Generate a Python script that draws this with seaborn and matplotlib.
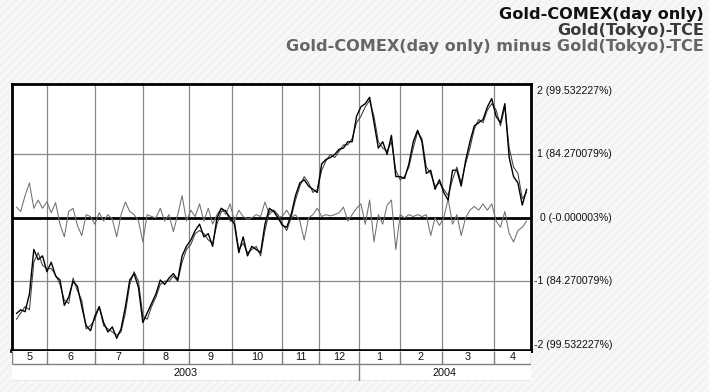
import matplotlib
matplotlib.use("Agg")
import matplotlib.pyplot as plt
import matplotlib.transforms as mtransforms
from matplotlib.patches import Rectangle
import pandas as pd
import seaborn as sns

# ---------------- data ----------------
month_labels = ['5', '6', '7', '8', '9', '10', '11', '12', '1', '2', '3', '4']
month_days = [16, 22, 22, 21, 20, 23, 17, 18, 19, 19, 24, 17]   # trading days per month
year_labels = ['2003', '2004']
year_months = [8, 4]

days = list(range(2, 237, 2))   # trading-day index of each sample

comex = [-1.51, -1.45, -1.48, -1.2, -0.5, -0.66, -0.6, -0.85, -0.7, -0.92,
         -0.98, -1.38, -1.25, -1.0, -1.08, -1.4, -1.7, -1.78, -1.55, -1.4,
         -1.65, -1.8, -1.72, -1.9, -1.75, -1.4, -0.98, -0.88, -1.1, -1.65,
         -1.5, -1.35, -1.2, -0.98, -1.05, -0.95, -0.88, -0.98, -0.6, -0.45,
         -0.35, -0.2, -0.1, -0.3, -0.25, -0.45, 0.0, 0.15, 0.1, 0.0,
         -0.1, -0.55, -0.3, -0.6, -0.45, -0.5, -0.55, -0.1, 0.15, 0.1,
         0.0, -0.12, -0.15, 0.05, 0.35, 0.55, 0.6, 0.5, 0.45, 0.4,
         0.85, 0.92, 0.95, 1.0, 1.08, 1.1, 1.2, 1.2, 1.6, 1.75,
         1.8, 1.9, 1.5, 1.1, 1.2, 1.0, 1.3, 0.65, 0.65, 0.62,
         0.85, 1.2, 1.38, 1.2, 0.7, 0.75, 0.45, 0.6, 0.4, 0.28,
         0.75, 0.75, 0.5, 0.9, 1.2, 1.45, 1.5, 1.55, 1.75, 1.88,
         1.6, 1.5, 1.8, 0.95, 0.65, 0.55, 0.2, 0.45]

tokyo = [-1.6, -1.5, -1.4, -1.45, -0.7, -0.55, -0.75, -0.8, -0.8, -0.9,
         -1.05, -1.3, -1.35, -0.95, -1.15, -1.3, -1.75, -1.7, -1.6, -1.4,
         -1.7, -1.75, -1.8, -1.85, -1.8, -1.5, -1.05, -0.85, -1.0, -1.55,
         -1.6, -1.4, -1.25, -1.05, -1.0, -1.0, -0.92, -1.0, -0.7, -0.5,
         -0.42, -0.25, -0.2, -0.25, -0.35, -0.4, -0.1, 0.1, 0.12, -0.05,
         -0.05, -0.5, -0.4, -0.55, -0.5, -0.45, -0.6, -0.2, 0.1, 0.12,
         0.05, -0.1, -0.2, 0.0, 0.28, 0.5, 0.65, 0.55, 0.4, 0.45,
         0.75, 0.9, 1.0, 0.95, 1.05, 1.15, 1.15, 1.25, 1.5, 1.6,
         1.75, 1.85, 1.6, 1.2, 1.1, 1.05, 1.2, 0.75, 0.6, 0.65,
         0.8, 1.1, 1.35, 1.25, 0.8, 0.7, 0.5, 0.55, 0.45, 0.35,
         0.6, 0.8, 0.55, 0.85, 1.1, 1.4, 1.55, 1.5, 1.7, 1.8,
         1.7, 1.45, 1.75, 1.1, 0.8, 0.7, 0.3, 0.4]

diff = [0.17, 0.1, 0.35, 0.55, 0.15, 0.28, 0.15, 0.25, 0.08, 0.24,
        -0.1, -0.3, 0.1, 0.15, -0.12, -0.28, 0.05, 0.02, -0.1, 0.08,
        -0.05, 0.05, -0.02, -0.3, 0.05, 0.25, 0.1, 0.05, -0.05, -0.38,
        0.05, 0.02, 0.0, 0.15, -0.05, 0.05, -0.22, 0.05, 0.35, -0.05,
        0.12, 0.02, 0.22, -0.05, 0.15, -0.1, 0.05, 0.15, 0.05, 0.22,
        -0.05, 0.12, 0.02, -0.02, 0.0, 0.05, 0.02, 0.25, 0.05, 0.12,
        0.0, 0.03, 0.12, 0.0, 0.05, -0.05, -0.35, 0.0, 0.05, 0.15,
        0.02, 0.05, 0.03, 0.05, 0.08, 0.17, -0.05, 0.05, 0.15, 0.22,
        -0.1, 0.28, -0.38, 0.05, -0.1, 0.2, 0.28, -0.5, 0.05, 0.0,
        0.05, 0.02, 0.05, 0.02, 0.05, -0.28, 0.0, -0.12, 0.0, 0.3,
        -0.1, 0.05, -0.28, 0.0, 0.12, 0.18, 0.12, 0.22, 0.12, 0.22,
        -0.05, -0.15, 0.1, -0.25, -0.38, -0.2, -0.15, -0.05]

series_names = ['Gold-COMEX(day only)', 'Gold(Tokyo)-TCE',
                'Gold-COMEX(day only) minus Gold(Tokyo)-TCE']
series_colors = ['#000000', '#3c3c3c', '#707070']
title_colors = ['#111111', '#3a3a3a', '#666666']

ytick_vals = [2, 1, 0, -1, -2]
ytick_labels = ['2 (99.532227%)', '1 (84.270079%)', '0 (-0.000003%)',
                '-1 (84.270079%)', '-2 (99.532227%)']

# ---------------- figure ----------------
sns.set_style('white')
plt.rcParams['font.family'] = ['Liberation Sans', 'DejaVu Sans']
plt.rcParams['hatch.linewidth'] = 0.3

W, H = 709, 392
fig = plt.figure(figsize=(W / 100, H / 100), dpi=100)
fig.patch.set_facecolor('#f5f5f5')
bg = Rectangle((0, 0), 1, 1, transform=fig.transFigure, facecolor='#f7f7f7',
               edgecolor='#e0e0e0', hatch='////', lw=0, zorder=-10)
fig.patches.append(bg)


def fx(px):
    return px / W


def fy(py):
    return 1 - py / H


L, R, T, B = 12, 531, 84, 351
ax = fig.add_axes([fx(L), fy(B), fx(R) - fx(L), fy(T) - fy(B)])
ax.set_facecolor('white')

bounds = [0]
for n in month_days:
    bounds.append(bounds[-1] + n)
total = bounds[-1]

df = pd.DataFrame({
    'day': days * 3,
    'value': comex + tokyo + diff,
    'series': [series_names[0]] * len(days) + [series_names[1]] * len(days)
              + [series_names[2]] * len(days),
})

widths = {series_names[0]: 1.0, series_names[1]: 0.75, series_names[2]: 0.75}
for name, col in reversed(list(zip(series_names, series_colors))):
    sns.lineplot(data=df[df['series'] == name], x='day', y='value', color=col,
                 lw=widths[name], ax=ax, estimator=None, sort=False,
                 legend=False, zorder=3)

for b in bounds[1:-1]:
    ax.axvline(b, color='#888888', lw=0.9, zorder=1)
for v in (1, -1):
    ax.axhline(v, color='#888888', lw=0.9, zorder=1)
ax.axhline(0, color='black', lw=2.0, zorder=2)

ax.set_xlim(0, total)
ax.set_ylim(-2.1, 2.11)
ax.set_xticks([])
ax.set_yticks([])
ax.set_xlabel('')
ax.set_ylabel('')
for side, sp in ax.spines.items():
    sp.set_visible(True)
    sp.set_color('black')
    sp.set_linewidth(2.0)
ax.spines['bottom'].set_linewidth(2.6)

trans = mtransforms.blended_transform_factory(ax.transAxes, ax.transData)
for v, lab in zip(ytick_vals, ytick_labels):
    ax.text(1 + (612 - R) / (R - L), v, lab, transform=trans, ha='right',
            va='center', fontsize=7.6, color='#111111')

# ---------------- date table ----------------
tab = fig.add_axes([fx(L), fy(381), fx(R) - fx(L), fy(B) - fy(381)])
tab.set_xlim(0, total)
tab.set_ylim(0, 30)
tab.axis('off')
tab.add_patch(Rectangle((0, 0), total, 30, facecolor='white', lw=0, zorder=0))
tab.hlines([17, 0.5], 0, total, color='#808080', lw=1.0, zorder=2)
tab.vlines(bounds, 17, 30, color='#808080', lw=1.0, zorder=2)
for i, lab in enumerate(month_labels):
    tab.text((bounds[i] + bounds[i + 1]) / 2, 23.5, lab, ha='center',
             va='center', fontsize=7.8, color='#111111')
ystart = 0
for lab, nm in zip(year_labels, year_months):
    x0 = bounds[ystart]
    x1 = bounds[ystart + nm]
    tab.text((x0 + x1) / 2, 8.5, lab, ha='center', va='center',
             fontsize=7.8, color='#111111')
    if ystart > 0:
        tab.vlines([x0], 0.5, 17, color='#808080', lw=1.0)
    ystart += nm

# ---------------- titles ----------------
for i, (name, col) in enumerate(zip(series_names, title_colors)):
    fig.text(fx(704), fy(15 + 16 * i), name, ha='right', va='center',
             fontsize=11.6, fontweight='bold', color=col,
             family=['DejaVu Sans'])

fig.savefig('out.png', dpi=100, facecolor=fig.get_facecolor())
